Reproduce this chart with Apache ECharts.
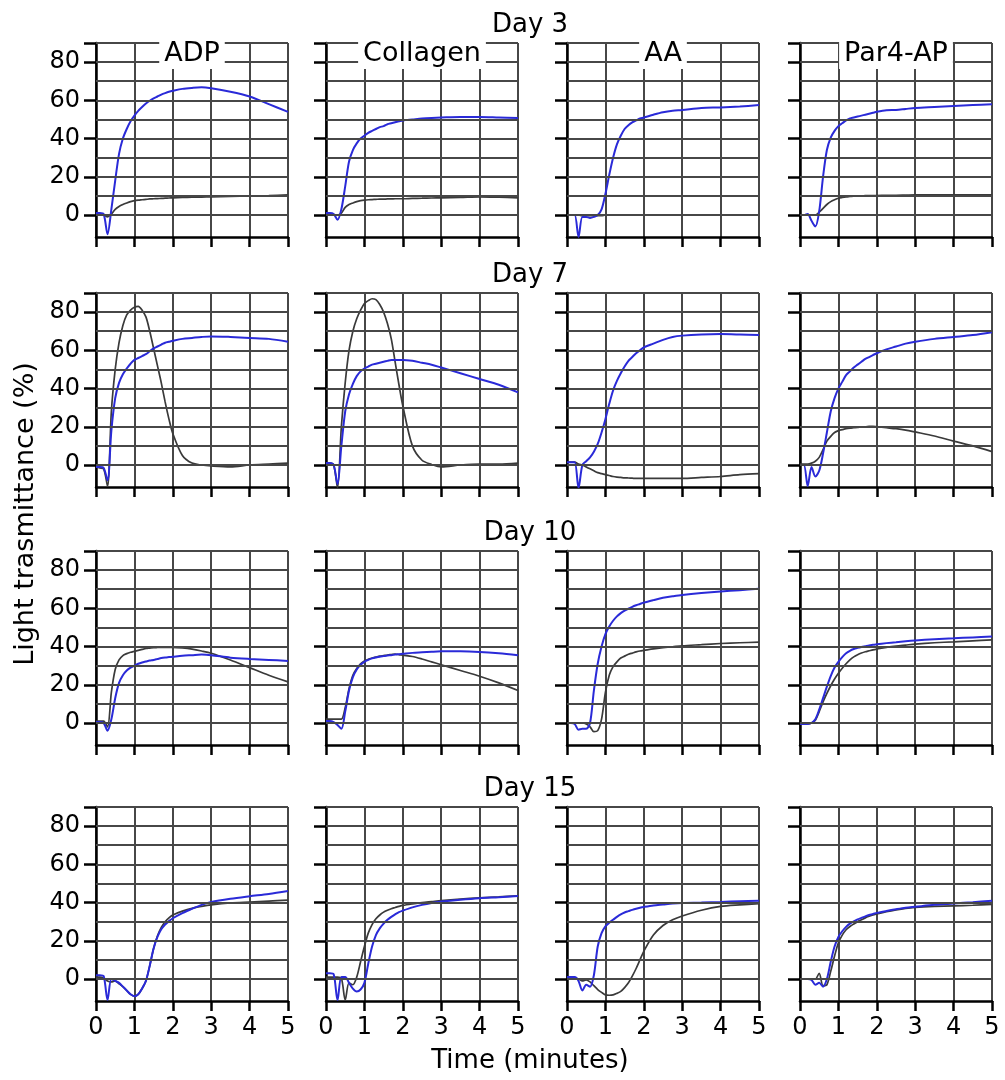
<!DOCTYPE html>
<html>
<head>
<meta charset="utf-8">
<title>Light transmittance</title>
<script src="https://cdn.jsdelivr.net/npm/echarts@6/dist/echarts.min.js"></script>
<style>
  html, body { margin: 0; padding: 0; background: #fff; }
  #chart { width: 1005px; height: 1080px; }
</style>
</head>
<body>
<div id="chart"></div>
<script>
// sample times (minutes)
var times = [0, 0.1, 0.2, 0.3, 0.4, 0.5, 0.6, 0.7, 0.8, 0.9, 1.0, 1.1, 1.2, 1.3, 1.4, 1.5, 1.6, 1.7, 1.8, 1.9, 2.0,
  2.25, 2.5, 2.75, 3, 3.5, 4, 4.5, 5];

var days = ['Day 3', 'Day 7', 'Day 10', 'Day 15'];
var agonists = ['ADP', 'Collagen', 'AA', 'Par4-AP'];
var xTicks = [0, 1, 2, 3, 4, 5];
var yTickLabels = [0, 20, 40, 60, 80];
var yTickMarks = [0, 20, 40, 60, 80, 90];
var yGridLines = [0, 10, 20, 30, 40, 50, 60, 70, 80, 90];

// Day 3
var blueD3Adp = [1, 1, 0.5, -10, 3, 18, 32, 40, 45, 49, 52, 54.5, 56.5, 58.3, 59.8, 61, 62, 63, 63.8, 64.5, 65, 66, 66.5, 66.8, 66.3, 64.5, 62, 58, 54];
var grayD3Adp = [0, 0, 0, -1, 0.5, 3, 4.5, 5.5, 6.3, 7, 7.5, 7.8, 8, 8.2, 8.4, 8.5, 8.6, 8.7, 8.8, 8.9, 9, 9.2, 9.3, 9.4, 9.5, 9.8, 10, 10.2, 10.5];
var blueD3Col = [1, 1, 0.5, -2.5, 3, 15, 28, 34, 37.5, 40, 41.5, 43, 44, 45, 46, 46.5, 47.5, 48, 48.5, 49, 49.5, 50, 50.5, 50.8, 51, 51.3, 51.3, 51, 50.7];
var grayD3Col = [0, 0, 0, 0, 1, 4, 5.5, 6.3, 7, 7.5, 7.8, 8, 8.1, 8.2, 8.3, 8.3, 8.4, 8.4, 8.5, 8.5, 8.5, 8.7, 8.8, 8.9, 9, 9.2, 9.5, 9.3, 9];
var blueD3Aa = [0, 0, 0, -11.5, -1, -1, -1.5, -1, 0, 3, 11, 21, 30, 37, 41.5, 45, 47, 48.5, 49.5, 50.5, 51, 52.5, 53.8, 54.6, 55, 56, 56.3, 56.8, 57.5];
var grayD3Aa = [0, 0, 0, 0, -0.3, -0.3, -0.3, -0.3, -0.3, -0.3, 0, 0, 0, 0, 0, 0, 0, 0, 0, 0, 0, 0, 0, 0, 0, 0, 0, 0, 0];
var blueD3Par = [0, 0, 0.5, -3, -6, 2, 20, 34, 40.5, 44, 46.5, 48, 49.5, 50.5, 51, 51.5, 52, 52.5, 53, 53.5, 54, 54.8, 55, 55.5, 56, 56.5, 57, 57.5, 58];
var grayD3Par = [0, 0, 0, 0, 0, 1.5, 3.5, 5.5, 7, 8, 8.8, 9.2, 9.5, 9.7, 9.9, 10, 10, 10.1, 10.1, 10.2, 10.2, 10.3, 10.3, 10.4, 10.5, 10.5, 10.5, 10.5, 10.5];

// Day 7
var blueD7Adp = [-1, -1, -1.5, -8, 18, 35, 43, 47.5, 50.5, 53, 55, 56, 57, 58, 59.5, 61, 62, 63, 64, 64.5, 65, 66, 66.5, 67, 67.3, 67, 66.5, 66, 64.5];
var grayD7Adp = [-1, -1.5, -2, -11, 28, 50, 64, 73, 78.5, 81, 82.5, 83, 81, 77.5, 70, 61, 52, 43, 33, 24, 16.5, 5, 1, 0, -0.5, -1, 0, 0.5, 1];
var blueD7Col = [1, 1, 0, -10, 10, 28, 37, 42.5, 46.5, 49, 50.5, 51.5, 52.5, 53, 53.5, 54, 54.5, 55, 55, 55, 55, 54.5, 53.5, 52.5, 51, 48, 45, 42, 38];
var grayD7Col = [1, 1, 0, -12, 20, 43, 60, 70, 76.5, 81, 84.5, 86, 87, 86.5, 84, 80, 74, 66, 54, 42, 31, 10, 2.5, 0.3, -1, 0, 0.5, 0.5, 1];
var blueD7Aa = [1.5, 1.5, 1.5, -12, 0, 2, 4, 7, 11, 17, 24, 32, 39, 44, 48, 51.5, 54.5, 56.5, 58.5, 60, 61.5, 63.5, 65.5, 67, 67.7, 68.3, 68.5, 68.3, 68];
var grayD7Aa = [1.5, 1.5, 1.5, 0.5, 0, -1, -2, -3, -4, -4.5, -5, -5.5, -6, -6.3, -6.5, -6.7, -6.8, -6.9, -7, -7, -7, -7, -7, -7, -7, -6.5, -6, -5, -4.5];
var blueD7Par = [0, 0, -11, -1, -6, -3, 6, 17, 28, 35, 40, 43.5, 47, 49, 51, 52.5, 54, 55.5, 56.5, 57.5, 58.5, 60.5, 62, 63.5, 64.5, 66, 67, 68, 69.5];
var grayD7Par = [0.5, 0.5, 0.5, 1, 2, 4, 8, 12.5, 15, 17, 18, 18.5, 19, 19.3, 19.5, 19.7, 20, 20, 20.2, 20.2, 20, 19.5, 19, 18.3, 17.3, 15.2, 12.5, 10, 7];

// Day 10
var blueD10Adp = [0.5, 0.5, 0, -4, 2, 13, 21, 25, 27.5, 29, 30, 31, 31.7, 32.2, 32.7, 33, 33.5, 34, 34.3, 34.5, 34.7, 35.2, 35.5, 35.8, 35.5, 34.2, 33.5, 33, 32.5];
var grayD10Adp = [1, 1, 1, -2, 16, 28, 33, 35.3, 36.3, 37, 37.5, 38, 38.5, 39, 39.2, 39.4, 39.5, 39.6, 39.6, 39.6, 39.6, 39.3, 38.7, 37.7, 36.5, 33, 29, 25, 21.5];
var blueD10Col = [1, 1, 0.5, -1, -3, 6, 17, 24, 28, 30.5, 32, 33, 33.8, 34.3, 34.7, 35, 35.3, 35.5, 35.8, 36, 36.2, 36.7, 37, 37.3, 37.5, 37.5, 37.2, 36.5, 35.5];
var grayD10Col = [2, 2, 2, 2, 2, 8, 18, 25, 28.5, 31, 32.5, 33.3, 34, 34.5, 35, 35.3, 35.6, 35.8, 36, 35.8, 35.5, 34.8, 33.5, 32, 30.5, 27.5, 24.5, 21, 17];
var blueD10Aa = [0, 0, -0.5, -3.5, -3, -3, 0, 17, 31, 40, 46.5, 50.5, 53.5, 55.8, 57.5, 58.8, 59.8, 60.8, 61.6, 62.3, 63, 64.3, 65.5, 66.3, 67, 68, 68.8, 69.5, 70.3];
var grayD10Aa = [0, 0, 0, 0, 0, -0.5, -2, -4.5, -4, 2, 16, 25, 29.5, 32, 34, 35, 36, 36.6, 37.2, 37.7, 38, 38.8, 39.4, 39.9, 40.4, 41, 41.6, 42, 42.3];
var blueD10Par = [-0.5, -0.5, -0.5, 0, 2, 7, 13, 19, 24.5, 29, 32, 34.5, 36.5, 37.8, 38.7, 39.3, 39.8, 40.2, 40.6, 40.9, 41.2, 41.8, 42.3, 42.8, 43.2, 43.8, 44.3, 44.8, 45.3];
var grayD10Par = [-0.5, -0.5, -0.5, 0, 1.5, 6, 11, 15.5, 19.5, 23, 26, 28.7, 31, 33, 34.6, 35.7, 36.6, 37.3, 37.8, 38.3, 38.7, 39.6, 40.3, 40.8, 41.3, 42, 42.5, 43, 43.5];

// Day 15
var blueD15Adp = [2, 2, 1.5, -11, 0, -1, -2, -4, -6, -8, -9, -8, -5, -1, 7, 16, 22, 26, 28.5, 30.3, 31.8, 34.5, 36.7, 38.8, 40.3, 42, 43.3, 44.5, 46];
var grayD15Adp = [1, 1, 0.5, -1, -1.5, -1, -2.5, -4, -6, -8, -9, -8, -5, -1, 7, 16, 22.5, 27, 30, 32, 33.5, 35.5, 37, 38, 38.8, 39.8, 40.3, 40.8, 41.3];
var blueD15Col = [3, 3, 2.5, -11, 1, 1, -2, -5, -6.5, -5.5, -2, 8, 17, 23, 26.5, 29, 31, 32.5, 33.8, 35, 35.8, 37.5, 38.8, 39.8, 40.5, 41.5, 42.3, 42.8, 43.4];
var grayD15Col = [1, 1, 1, 1, 0.5, -11, -2, -3, 1, 9, 17, 24, 28.5, 31.5, 33.5, 35, 36, 36.8, 37.4, 38, 38.5, 39.3, 40, 40.5, 41, 41.8, 42.5, 43, 43.5];
var blueD15Aa = [1, 1, 1, -1, -6, -3, -4, 2, 17, 24, 27.5, 29.5, 31, 32.5, 33.8, 34.8, 35.5, 36.2, 36.8, 37.3, 37.7, 38.5, 39, 39.5, 39.8, 40, 40.3, 40.7, 41];
var grayD15Aa = [0.5, 0.5, 0.5, 0, -1, -0.5, -1.5, -3.5, -5.5, -7, -8.3, -8.5, -8.3, -7.5, -6.5, -4.5, -2, 1.5, 5.5, 10, 14.5, 23, 28, 31, 33, 36, 38, 38.8, 39.4];
var blueD15Par = [0, 0, 0, -0.5, -3, -2, -4, 0, 9, 17, 22, 25, 27.3, 29, 30.2, 31.2, 32, 32.8, 33.5, 34, 34.6, 35.6, 36.5, 37.3, 37.8, 38.8, 39.5, 40.2, 41];
var grayD15Par = [0, 0, 0, 0, 0, 3, -3.5, -3, 4, 12, 19, 23, 25.8, 27.5, 28.8, 30, 31, 32, 32.8, 33.5, 34, 35.2, 36.2, 37, 37.5, 38, 38.3, 38.6, 39];

var blueRows = [
  [blueD3Adp, blueD3Col, blueD3Aa, blueD3Par],
  [blueD7Adp, blueD7Col, blueD7Aa, blueD7Par],
  [blueD10Adp, blueD10Col, blueD10Aa, blueD10Par],
  [blueD15Adp, blueD15Col, blueD15Aa, blueD15Par]
];
var grayRows = [
  [grayD3Adp, grayD3Col, grayD3Aa, grayD3Par],
  [grayD7Adp, grayD7Col, grayD7Aa, grayD7Par],
  [grayD10Adp, grayD10Col, grayD10Aa, grayD10Par],
  [grayD15Adp, grayD15Col, grayD15Aa, grayD15Par]
];

// layout
var colLeft = [96, 326, 567, 800];
var rowTop = [43, 293, 551, 807];
var panelW = 192;
var panelH = 194;
var FONT = 'DejaVu Sans';
var gridColor = '#474747';
var BLUE = '#2a2ad8';
var GRAY = '#3a3a3a';

function pairs(vals) {
  return times.map(function (t, i) { return [t, vals[i]]; });
}

var chart = echarts.init(document.getElementById('chart'), null, { renderer: 'canvas' });

var grids = [], xAxes = [], yAxes = [], series = [], graphics = [];

for (var r = 0; r < 4; r++) {
  for (var c = 0; c < 4; c++) {
    var k = r * 4 + c;
    grids.push({ left: colLeft[c], top: rowTop[r], width: panelW, height: panelH });
    xAxes.push({
      gridIndex: k, type: 'value', min: 0, max: 5, interval: 1,
      axisLine: { onZero: false, lineStyle: { color: '#000', width: 2.5 } },
      axisTick: { length: 10, lineStyle: { color: '#000', width: 2.5 } },
      axisLabel: {
        show: r === 3, margin: 15, color: '#000', fontSize: 24, fontFamily: FONT,
        customValues: xTicks
      },
      splitLine: { show: true, lineStyle: { color: gridColor, width: 2 } }
    });
    yAxes.push({
      gridIndex: k, type: 'value', min: -11.5, max: 90,
      axisLine: { show: true, lineStyle: { color: '#000', width: 2.5 } },
      axisTick: { show: true, length: 12, customValues: yTickMarks, lineStyle: { color: '#000', width: 2.5 } },
      axisLabel: {
        show: c === 0, margin: 16, color: '#000', fontSize: 24, fontFamily: FONT,
        customValues: yTickLabels
      },
      splitLine: { show: false }
    });
    // horizontal grid lines every 10 %
    series.push({
      type: 'line', xAxisIndex: k, yAxisIndex: k, data: [], z: 1, silent: true,
      markLine: {
        silent: true, symbol: 'none', animation: false,
        label: { show: false },
        lineStyle: { color: gridColor, width: 2, type: 'solid' },
        data: yGridLines.map(function (v) { return { yAxis: v }; })
      }
    });
    series.push({
      type: 'line', xAxisIndex: k, yAxisIndex: k, z: 3,
      data: pairs(grayRows[r][c]), showSymbol: false, smooth: 0.3,
      lineStyle: { color: GRAY, width: 1.7 }
    });
    series.push({
      type: 'line', xAxisIndex: k, yAxisIndex: k, z: 4,
      data: pairs(blueRows[r][c]), showSymbol: false, smooth: 0.3,
      lineStyle: { color: BLUE, width: 2 }
    });
    if (r === 0) {
      graphics.push({
        type: 'text', z: 100,
        x: colLeft[c] + panelW / 2, y: rowTop[0] + 11,
        style: {
          text: agonists[c], fill: '#000', font: '27px "' + FONT + '"',
          align: 'center', verticalAlign: 'middle',
          backgroundColor: '#fff', padding: [2, 5, 1, 5]
        }
      });
    }
  }
  graphics.push({
    type: 'text', z: 100, x: 530, y: rowTop[r] - 18,
    style: { text: days[r], fill: '#000', font: '26px "' + FONT + '"', align: 'center', verticalAlign: 'middle' }
  });
}

graphics.push({
  type: 'text', z: 100, x: 530, y: 1061,
  style: { text: 'Time (minutes)', fill: '#000', font: '26px "' + FONT + '"', align: 'center', verticalAlign: 'middle' }
});
graphics.push({
  type: 'text', z: 100, x: 26, y: 514, rotation: Math.PI / 2,
  style: { text: 'Light trasmittance (%)', fill: '#000', font: '27px "' + FONT + '"', align: 'center', verticalAlign: 'middle' }
});

chart.setOption({
  animation: false,
  backgroundColor: '#fff',
  grid: grids,
  xAxis: xAxes,
  yAxis: yAxes,
  series: series,
  graphic: graphics
});
</script>
</body>
</html>
